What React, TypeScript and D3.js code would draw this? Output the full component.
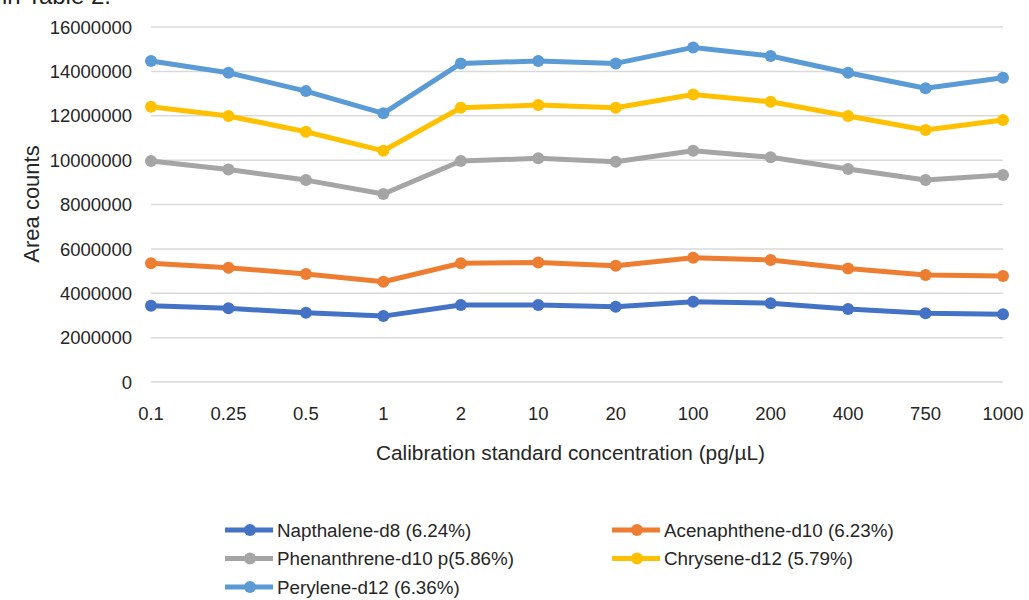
import React from "react";
import * as d3 from "d3";

const categories = ["0.1", "0.25", "0.5", "1", "2", "10", "20", "100", "200", "400", "750", "1000"];
const napthalene = [3440000, 3320000, 3120000, 2970000, 3470000, 3470000, 3390000, 3620000, 3550000, 3290000, 3100000, 3050000];
const acenaphthene = [5350000, 5150000, 4870000, 4520000, 5350000, 5390000, 5240000, 5600000, 5500000, 5120000, 4820000, 4780000];
const phenanthrene = [9960000, 9580000, 9100000, 8470000, 9960000, 10080000, 9930000, 10420000, 10130000, 9600000, 9100000, 9330000];
const chrysene = [12410000, 11990000, 11280000, 10420000, 12360000, 12480000, 12360000, 12960000, 12630000, 11990000, 11360000, 11810000];
const perylene = [14470000, 13940000, 13110000, 12110000, 14360000, 14470000, 14360000, 15080000, 14690000, 13940000, 13240000, 13710000];
const yTicks = [0, 2000000, 4000000, 6000000, 8000000, 10000000, 12000000, 14000000, 16000000];

const seriesNames = [
  "Napthalene-d8 (6.24%)",
  "Acenaphthene-d10 (6.23%)",
  "Phenanthrene-d10 p(5.86%)",
  "Chrysene-d12 (5.79%)",
  "Perylene-d12 (6.36%)",
];
const seriesColors = ["#4472C4", "#ED7D31", "#A5A5A5", "#FFC000", "#5B9BD5"];
const seriesData = [napthalene, acenaphthene, phenanthrene, chrysene, perylene];

const FONT = "'Liberation Sans', Arial, sans-serif";

export default function App() {
  const x = d3.scalePoint<string>().domain(categories).range([151, 1003]);
  const y = d3.scaleLinear().domain([0, 16000000]).range([382, 27]);
  const line = d3
    .line<number>()
    .x((_, i) => x(categories[i]) as number)
    .y((d) => y(d));

  const legendPos = [
    { lx: 225, ly: 530 },
    { lx: 612, ly: 530 },
    { lx: 225, ly: 558.5 },
    { lx: 612, ly: 558.5 },
    { lx: 225, ly: 587 },
  ];

  return (
    <div style={{ position: "absolute", left: 0, top: 0 }}>
      <svg width={1029} height={600} style={{ display: "block", background: "#fff" }}>
        <text x={2} y={4} fontFamily={FONT} fontSize={24} fill="#222">
          in Table 2.
        </text>
        {yTicks.map((t) => (
          <g key={t}>
            <line x1={151} x2={1003} y1={y(t)} y2={y(t)} stroke="#D9D9D9" strokeWidth={1.5} />
            <text
              x={132}
              y={y(t)}
              dy="0.36em"
              textAnchor="end"
              fontFamily={FONT}
              fontSize={18.5}
              fill="#262626"
            >
              {t}
            </text>
          </g>
        ))}
        {categories.map((c) => (
          <text
            key={c}
            x={x(c) as number}
            y={413}
            dy="0.36em"
            textAnchor="middle"
            fontFamily={FONT}
            fontSize={18.5}
            fill="#262626"
          >
            {c}
          </text>
        ))}
        <text
          x={376}
          y={453}
          dy="0.36em"
          fontFamily={FONT}
          fontSize={20.5}
          textLength={389}
          lengthAdjust="spacingAndGlyphs"
          fill="#262626"
        >
          Calibration standard concentration (pg/µL)
        </text>
        <text
          transform={`translate(31,204) rotate(-90)`}
          dy="0.36em"
          textAnchor="middle"
          fontFamily={FONT}
          fontSize={22}
          fill="#262626"
        >
          Area counts
        </text>
        {seriesData.map((s, si) => (
          <g key={si}>
            <path
              d={line(s) || ""}
              fill="none"
              stroke={seriesColors[si]}
              strokeWidth={5}
              strokeLinejoin="round"
            />
            {s.map((v, i) => (
              <circle key={i} cx={x(categories[i]) as number} cy={y(v)} r={6} fill={seriesColors[si]} />
            ))}
          </g>
        ))}
        {seriesNames.map((n, i) => {
          const p = legendPos[i];
          return (
            <g key={n}>
              <line x1={p.lx} x2={p.lx + 48} y1={p.ly} y2={p.ly} stroke={seriesColors[i]} strokeWidth={5} />
              <circle cx={p.lx + 25} cy={p.ly} r={6} fill={seriesColors[i]} />
              <text x={p.lx + 52} y={p.ly} dy="0.36em" fontFamily={FONT} fontSize={18.8} fill="#262626">
                {n}
              </text>
            </g>
          );
        })}
      </svg>
    </div>
  );
}
